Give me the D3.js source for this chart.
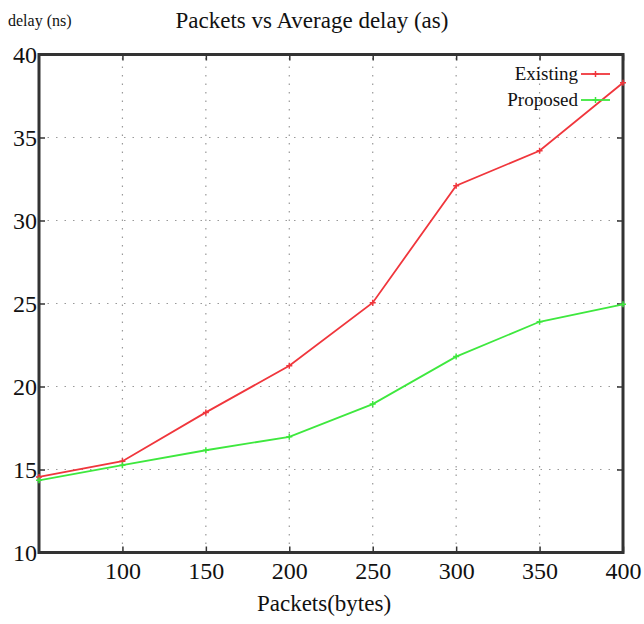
<!DOCTYPE html>
<html>
<head>
<meta charset="utf-8">
<script src="https://cdn.jsdelivr.net/npm/d3@7"></script>
<style>
  body { margin: 0; background: #fff; }
  svg, svg text { font-family: "Liberation Serif", "Times New Roman", Times, serif !important; }
</style>
</head>
<body>
<div id="chart"></div>
<script>
// data
const packets = [50, 100, 150, 200, 250, 300, 350, 400];
const existing = [14.55, 15.5, 18.44, 21.25, 25.05, 32.1, 34.2, 38.3];
const proposed = [14.35, 15.26, 16.16, 16.97, 18.94, 21.8, 23.9, 24.95];
const xTicks = [100, 150, 200, 250, 300, 350, 400];
const yTicks = [10, 15, 20, 25, 30, 35, 40];

const width = 644, height = 624;
const margin = {top: 54.5, right: 21, bottom: 71.5, left: 39};

const svg = d3.select('#chart').append('svg')
  .attr('width', width).attr('height', height);

const x = d3.scaleLinear().domain([50, 400]).range([margin.left, width - margin.right]);
const y = d3.scaleLinear().domain([10, 40]).range([height - margin.bottom, margin.top]);

// dotted grid
svg.append('g').selectAll('line').data(xTicks.slice(0, -1)).join('line')
  .attr('x1', d => x(d)).attr('x2', d => x(d))
  .attr('y1', y(10)).attr('y2', y(40))
  .attr('stroke', '#999').attr('stroke-width', 1.2).attr('stroke-dasharray', '1.5,7');
svg.append('g').selectAll('line').data(yTicks.slice(1, -1)).join('line')
  .attr('x1', x(50)).attr('x2', x(400))
  .attr('y1', d => y(d)).attr('y2', d => y(d))
  .attr('stroke', '#999').attr('stroke-width', 1.2).attr('stroke-dasharray', '1.5,7');

// axes with inward ticks
const xAxis = svg.append('g')
  .attr('transform', `translate(0,${y(10)})`)
  .call(d3.axisBottom(x).tickValues(xTicks).tickSize(-6).tickPadding(12).tickSizeOuter(0));
const yAxis = svg.append('g')
  .attr('transform', `translate(${x(50)},0)`)
  .call(d3.axisLeft(y).tickValues(yTicks).tickSize(-6).tickPadding(5).tickSizeOuter(0));
svg.append('g')
  .attr('transform', `translate(${x(400)},0)`)
  .call(d3.axisRight(y).tickValues(yTicks).tickSize(-6).tickFormat('').tickSizeOuter(0))
  .call(g => g.select('.domain').remove());
svg.append('g')
  .attr('transform', `translate(0,${y(40)})`)
  .call(d3.axisTop(x).tickValues(xTicks).tickSize(-6).tickFormat('').tickSizeOuter(0))
  .call(g => g.select('.domain').remove());

[xAxis, yAxis].forEach(g => {
  g.attr('font-family', null).attr('font-size', 24);
  g.selectAll('text').attr('fill', '#111');
});
xAxis.selectAll('.tick text').attr('dy', '0.6em');
yAxis.selectAll('.tick text').attr('dx', 3);
svg.selectAll('.tick line').attr('stroke', '#333').attr('stroke-width', 1.5);
svg.selectAll('.domain').remove();

// frame
svg.append('rect')
  .attr('x', x(50)).attr('y', y(40))
  .attr('width', x(400) - x(50)).attr('height', y(10) - y(40))
  .attr('fill', 'none').attr('stroke', '#333').attr('stroke-width', 3);

// series
const series = [
  {name: 'Existing', values: existing, color: '#f0363c'},
  {name: 'Proposed', values: proposed, color: '#3ee83e'}
];
const line = d3.line().x((d, i) => x(packets[i])).y(d => y(d));

series.forEach((s, k) => {
  svg.append('path').datum(s.values)
    .attr('d', line).attr('fill', 'none')
    .attr('stroke', s.color).attr('stroke-width', 1.8);
  svg.append('g').selectAll('path').data(s.values).join('path')
    .attr('d', (d, i) => `M${x(packets[i]) - 3},${y(d)}h6M${x(packets[i])},${y(d) - 3}v6`)
    .attr('stroke', s.color).attr('stroke-width', 1.5);

  // legend
  const ly = 74 + k * 26;
  svg.append('text').attr('x', 578).attr('y', ly + 6)
    .attr('text-anchor', 'end').attr('font-size', 19).attr('fill', '#111')
    .text(s.name);
  svg.append('line').attr('x1', 581).attr('x2', 610).attr('y1', ly).attr('y2', ly)
    .attr('stroke', s.color).attr('stroke-width', 1.8);
  svg.append('path').attr('d', `M592.5,${ly}h6M595.5,${ly - 3}v6`)
    .attr('stroke', s.color).attr('stroke-width', 1.5);
});

// titles
svg.append('text').attr('x', 312).attr('y', 28).attr('text-anchor', 'middle')
  .attr('font-size', 23).attr('fill', '#111').text('Packets vs Average delay (as)');
svg.append('text').attr('x', 8).attr('y', 26)
  .attr('font-size', 16).attr('fill', '#111').text('delay (ns)');
svg.append('text').attr('x', 324).attr('y', 611).attr('text-anchor', 'middle')
  .attr('font-size', 23).attr('fill', '#111').text('Packets(bytes)');
</script>
</body>
</html>
